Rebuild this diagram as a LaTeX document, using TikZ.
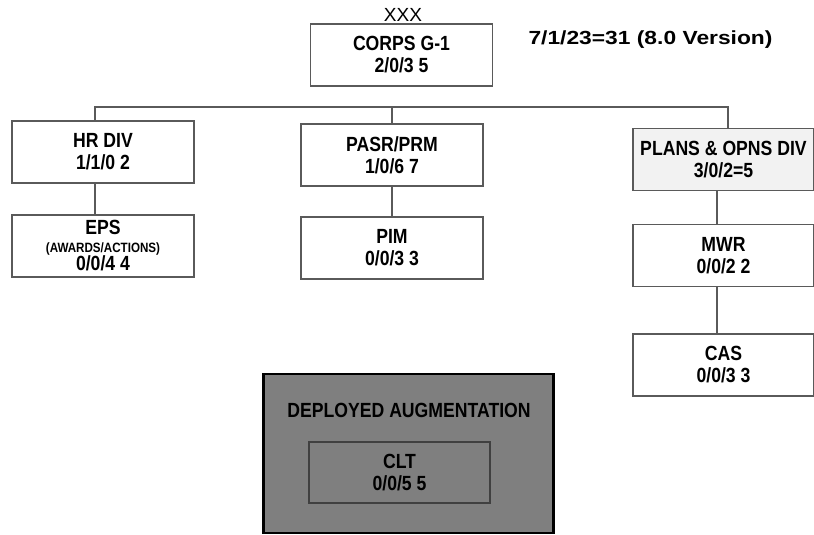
\documentclass[tikz,border=0pt]{standalone}
\usepackage{fontspec}
\setmainfont{Liberation Sans}[FakeStretch=0.86]
\newfontfamily\widefont{Liberation Sans}[FakeStretch=1.2]
\newfontfamily\plainfont{Liberation Sans}
\definecolor{boxline}{HTML}{5A5A5A}
\definecolor{lightfill}{HTML}{F2F2F2}
\definecolor{depfill}{HTML}{7F7F7F}
\begin{document}
\begin{tikzpicture}[x=1pt,y=-1pt,
  orgbox/.style={draw=boxline, line width=1.4pt, fill=white, rectangle,
    minimum width=182pt, minimum height=62pt, inner sep=0pt, align=center,
    font=\fontsize{20.5}{22}\selectfont\bfseries},
  conn/.style={draw=boxline, line width=1.4pt}]
\useasboundingbox (0,0) rectangle (814,535);
% title
\node[font=\plainfont\fontsize{19}{22}\selectfont] (xxx) at (403,15) {XXX};
\node[font=\widefont\fontsize{19}{24}\selectfont\bfseries, anchor=west] (ver) at (525,40) {7/1/23=31 (8.0 Version)};
% boxes
\node[orgbox] (corps) at (401.5,55) {CORPS G-1\\2/0/3 5};
\node[orgbox] (hr) at (103,152) {HR DIV\\1/1/0 2};
\node[orgbox, font=\fontsize{20.5}{19}\selectfont\bfseries] (eps) at (103,246) {EPS\\[-1pt]{\fontsize{13.5}{19}\selectfont (AWARDS/ACTIONS)}\\[-1pt]0/0/4 4};
\node[orgbox] (pasr) at (392,155) {PASR/PRM\\1/0/6 7};
\node[orgbox] (pim) at (392,248) {PIM\\0/0/3 3};
\node[orgbox, fill=lightfill, minimum width=181pt] (plans) at (723.5,159.5) {PLANS \& OPNS DIV\\3/0/2=5};
\node[orgbox, minimum width=181pt] (mwr) at (723.5,255.5) {MWR\\0/0/2 2};
\node[orgbox, minimum width=181pt] (cas) at (723.5,365) {CAS\\0/0/3 3};
% deployed augmentation
\node[draw=black, line width=2.6pt, fill=depfill, rectangle, minimum width=290pt, minimum height=159pt, inner sep=0pt] (dep) at (408.5,453.5) {};
\node[font=\fontsize{20.5}{22}\selectfont\bfseries] (deplabel) at (409,410) {DEPLOYED AUGMENTATION};
\node[orgbox, fill=depfill, draw=black!75, line width=1.2pt, minimum width=181pt, minimum height=61pt] (clt) at (399.5,472.5) {CLT\\0/0/5 5};
% connectors
\coordinate (bL) at (95,107);
\coordinate (bR) at (728,107);
\coordinate (vR) at (717,0);
\draw[conn] (hr.north -| bL) -- (bL) -- (bR) -- (plans.north -| bR);
\draw[conn] (pasr.north) -- (pasr.north |- bL);
\draw[conn] (hr.south -| bL) -- (eps.north -| bL);
\draw[conn] (pasr.south) -- (pim.north);
\draw[conn] (plans.south -| vR) -- (mwr.north -| vR);
\draw[conn] (mwr.south -| vR) -- (cas.north -| vR);
\end{tikzpicture}
\end{document}
